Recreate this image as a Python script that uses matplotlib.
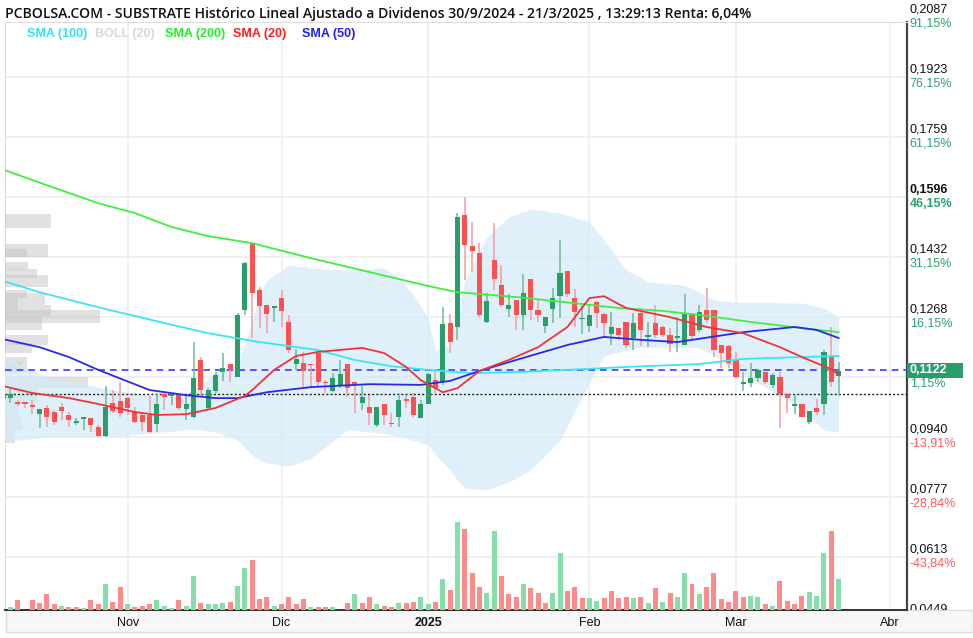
import numpy as np
import pandas as pd
import matplotlib
matplotlib.use("Agg")
import matplotlib.pyplot as plt
import matplotlib.transforms as mtransforms
from matplotlib.patches import Rectangle

# ---------------- datos ----------------
# sesiones BME desde el 9/10/2024 (el eje llega hasta el 1/4/2025)
holidays = pd.to_datetime(["2024-12-25", "2024-12-26", "2025-01-01"])
sessions = pd.bdate_range("2024-10-09", "2025-04-01")
sessions = sessions[~sessions.isin(holidays)]

opens = [0.1057, 0.1047, 0.1034, 0.1035, 0.1027, 0.1002, 0.1020, 0.1009, 0.1022, 0.1000,
         0.0979, 0.0990, 0.0992, 0.0968, 0.0942, 0.1033, 0.1039, 0.1047, 0.1009, 0.0999,
         0.1001, 0.0974, 0.1057, 0.1052, 0.1055, 0.1016, 0.0995, 0.1150, 0.1018, 0.1065,
         0.1117, 0.1139, 0.1104, 0.1286, 0.1468, 0.1341, 0.1299, 0.1292, 0.1320, 0.1254,
         0.1140, 0.1141, 0.1139, 0.1168, 0.1090, 0.1066, 0.1082, 0.1139, 0.1090, 0.1033,
         0.1022, 0.0973, 0.1030, 0.0978, 0.0995, 0.1043, 0.1050, 0.0993, 0.1030, 0.1095,
         0.1090, 0.1251, 0.1241, 0.1546, 0.1460, 0.1443, 0.1254, 0.1423, 0.1355, 0.1288,
         0.1314, 0.1274, 0.1370, 0.1286, 0.1242, 0.1290, 0.1325, 0.1392, 0.1318, 0.1263,
         0.1242, 0.1309, 0.1276, 0.1221, 0.1237, 0.1254, 0.1209, 0.1279, 0.1213, 0.1252,
         0.1241, 0.1218, 0.1209, 0.1191, 0.1273, 0.1232, 0.1286, 0.1286, 0.1191, 0.1189,
         0.1151, 0.1084, 0.1087, 0.1101, 0.1117, 0.1082, 0.1103, 0.1058, 0.1024, 0.1030,
         0.0980, 0.1020, 0.1031, 0.1158, 0.1106]
highs = [0.1060, 0.1071, 0.1041, 0.1035, 0.1041, 0.1016, 0.1027, 0.1014, 0.1032, 0.1008,
         0.0992, 0.0995, 0.0993, 0.0973, 0.1079, 0.1068, 0.1090, 0.1048, 0.1022, 0.1009,
         0.1053, 0.1060, 0.1060, 0.1060, 0.1055, 0.1052, 0.1200, 0.1159, 0.1073, 0.1117,
         0.1168, 0.1140, 0.1277, 0.1418, 0.1473, 0.1350, 0.1300, 0.1297, 0.1341, 0.1273,
         0.1179, 0.1172, 0.1140, 0.1170, 0.1095, 0.1114, 0.1150, 0.1140, 0.1091, 0.1079,
         0.1055, 0.1022, 0.1031, 0.1005, 0.1059, 0.1055, 0.1059, 0.1041, 0.1114, 0.1125,
         0.1295, 0.1275, 0.1550, 0.1596, 0.1527, 0.1469, 0.1334, 0.1523, 0.1409, 0.1330,
         0.1314, 0.1386, 0.1371, 0.1314, 0.1268, 0.1346, 0.1478, 0.1393, 0.1344, 0.1297,
         0.1300, 0.1310, 0.1277, 0.1281, 0.1238, 0.1255, 0.1277, 0.1286, 0.1254, 0.1300,
         0.1242, 0.1236, 0.1268, 0.1330, 0.1278, 0.1300, 0.1346, 0.1287, 0.1192, 0.1190,
         0.1172, 0.1118, 0.1143, 0.1125, 0.1118, 0.1114, 0.1117, 0.1059, 0.1057, 0.1031,
         0.1011, 0.1043, 0.1177, 0.1241, 0.1145]
lows = [0.1022, 0.1032, 0.1024, 0.1019, 0.1002, 0.0964, 0.0967, 0.0973, 0.0986, 0.0967,
        0.0973, 0.0959, 0.0954, 0.0940, 0.0940, 0.1005, 0.0995, 0.1000, 0.0979, 0.0956,
        0.0950, 0.0954, 0.1014, 0.1027, 0.1014, 0.0986, 0.0991, 0.1050, 0.1014, 0.1060,
        0.1092, 0.1090, 0.1103, 0.1273, 0.1210, 0.1237, 0.1224, 0.1254, 0.1241, 0.1168,
        0.1123, 0.1077, 0.1077, 0.1077, 0.1059, 0.1063, 0.1073, 0.1050, 0.1005, 0.1014,
        0.0973, 0.0968, 0.0973, 0.0968, 0.0968, 0.1018, 0.0995, 0.0991, 0.1029, 0.1060,
        0.1082, 0.1168, 0.1204, 0.1368, 0.1390, 0.1268, 0.1250, 0.1341, 0.1295, 0.1268,
        0.1232, 0.1232, 0.1259, 0.1254, 0.1223, 0.1250, 0.1264, 0.1322, 0.1241, 0.1221,
        0.1226, 0.1237, 0.1213, 0.1191, 0.1205, 0.1182, 0.1177, 0.1188, 0.1186, 0.1209,
        0.1213, 0.1172, 0.1172, 0.1190, 0.1205, 0.1227, 0.1251, 0.1158, 0.1128, 0.1127,
        0.1101, 0.1065, 0.1077, 0.1090, 0.1085, 0.1073, 0.0964, 0.1005, 0.1002, 0.0995,
        0.0975, 0.0999, 0.1000, 0.1076, 0.1053]
closes = [0.1043, 0.1057, 0.1030, 0.1031, 0.1022, 0.1016, 0.0995, 0.0981, 0.1010, 0.0986,
          0.0983, 0.0995, 0.0973, 0.0942, 0.1022, 0.1010, 0.1005, 0.1018, 0.0981, 0.0981,
          0.0954, 0.1029, 0.1049, 0.1057, 0.1018, 0.1029, 0.1102, 0.1068, 0.1068, 0.1108,
          0.1129, 0.1123, 0.1273, 0.1415, 0.1334, 0.1297, 0.1276, 0.1297, 0.1284, 0.1177,
          0.1152, 0.1121, 0.1137, 0.1090, 0.1087, 0.1101, 0.1113, 0.1073, 0.1082, 0.1050,
          0.1005, 0.1022, 0.1000, 0.0974, 0.1041, 0.1039, 0.1000, 0.1030, 0.1113, 0.1073,
          0.1249, 0.1200, 0.1539, 0.1464, 0.1447, 0.1273, 0.1310, 0.1372, 0.1300, 0.1300,
          0.1273, 0.1334, 0.1287, 0.1273, 0.1267, 0.1320, 0.1388, 0.1330, 0.1280, 0.1266,
          0.1273, 0.1277, 0.1250, 0.1241, 0.1218, 0.1191, 0.1252, 0.1232, 0.1218, 0.1218,
          0.1218, 0.1195, 0.1216, 0.1275, 0.1216, 0.1282, 0.1259, 0.1177, 0.1168, 0.1141,
          0.1103, 0.1090, 0.1101, 0.1123, 0.1090, 0.1108, 0.1057, 0.1045, 0.1030, 0.0995,
          0.1010, 0.1009, 0.1171, 0.1090, 0.1121]
# volumen (miles de acciones) y si la sesion cerro por encima de la anterior
volume = [0, 33, 100, 0, 100, 73, 157, 60, 43, 33,
          33, 23, 100, 60, 257, 83, 233, 57, 33, 43,
          57, 100, 43, 23, 100, 43, 343, 73, 57, 57,
          67, 83, 243, 417, 497, 110, 133, 43, 57, 133,
          57, 110, 33, 33, 33, 33, 0, 67, 157, 67,
          133, 57, 43, 33, 67, 67, 83, 133, 57, 83,
          307, 197, 883, 807, 373, 233, 167, 793, 343, 157,
          133, 257, 217, 167, 67, 167, 567, 193, 233, 117,
          117, 93, 117, 193, 117, 133, 117, 133, 67, 217,
          77, 167, 133, 367, 257, 157, 233, 367, 107, 83,
          193, 133, 143, 133, 57, 43, 293, 93, 57, 143,
          183, 143, 567, 793, 307]
vol_up = [0, 1, 0, 0, 0, 0, 0, 0, 1, 0,
          0, 1, 0, 0, 1, 0, 0, 1, 0, 0,
          0, 1, 1, 1, 0, 1, 1, 0, 1, 1,
          1, 0, 1, 1, 0, 0, 0, 1, 0, 0,
          0, 0, 1, 0, 0, 1, 0, 0, 1, 0,
          0, 1, 0, 0, 1, 0, 0, 1, 1, 0,
          1, 0, 1, 0, 0, 0, 1, 1, 0, 0,
          0, 1, 0, 0, 0, 1, 1, 0, 0, 0,
          1, 1, 0, 0, 0, 0, 1, 0, 1, 0,
          1, 0, 1, 1, 0, 1, 0, 0, 0, 0,
          0, 0, 1, 1, 0, 1, 0, 0, 0, 0,
          1, 1, 1, 0, 1]

# medias moviles (indice de sesion, valor)
sma200_day = [0, 6, 13, 18, 23, 28, 34, 42, 50, 54, 58, 62, 70, 78, 84, 90, 95, 102, 109, 114]
sma200 = [0.1670, 0.1627, 0.1578, 0.1551, 0.1513, 0.1488, 0.1469, 0.1428, 0.1390, 0.1371,
          0.1352, 0.1335, 0.1322, 0.1305, 0.1292, 0.1284, 0.1273, 0.1254, 0.1237, 0.1226]
sma100_day = [0, 5, 13, 22, 28, 35, 43, 48, 53, 58, 64, 70, 77, 85, 95, 101, 109, 114]
sma100 = [0.1366, 0.1335, 0.1294, 0.1251, 0.1223, 0.1199, 0.1177, 0.1150, 0.1133, 0.1123,
          0.1114, 0.1117, 0.1123, 0.1131, 0.1139, 0.1153, 0.1158, 0.1161]
sma50_day = [0, 5, 9, 13, 20, 25, 29, 32, 36, 42, 50, 57, 61, 65, 70, 77, 82, 87, 92, 101,
             108, 111, 114]
sma50 = [0.1207, 0.1185, 0.1158, 0.1123, 0.1068, 0.1054, 0.1046, 0.1046, 0.1062, 0.1076,
         0.1084, 0.1082, 0.1093, 0.1120, 0.1150, 0.1191, 0.1213, 0.1205, 0.1199, 0.1226,
         0.1240, 0.1232, 0.1210]
sma20_day = [0, 4, 9, 13, 18, 21, 25, 29, 33, 34, 37, 40, 43, 49, 52, 55, 57, 60, 62, 65,
             69, 73, 77, 80, 82, 85, 91, 96, 101, 106, 109, 113, 114]
sma20 = [0.1079, 0.1060, 0.1046, 0.1030, 0.1008, 0.1000, 0.1002, 0.1019, 0.1052, 0.1068,
         0.1123, 0.1161, 0.1172, 0.1183, 0.1169, 0.1131, 0.1095, 0.1062, 0.1073, 0.1120,
         0.1150, 0.1185, 0.1240, 0.1319, 0.1324, 0.1292, 0.1267, 0.1240, 0.1223, 0.1185,
         0.1158, 0.1125, 0.1109]
band_day = [0, 2, 6, 11, 15, 20, 25, 27, 29, 32, 33, 34, 35, 36, 39, 42, 47, 52, 54, 56,
            58, 59, 61, 62, 63, 66, 69, 72, 76, 80, 82, 85, 87, 88, 93, 95, 97, 100, 104, 109,
            112, 114]
band_up = [0.1163, 0.1142, 0.1103, 0.1084, 0.1068, 0.1054, 0.1060, 0.1082, 0.1117, 0.1144,
           0.1191, 0.1259, 0.1327, 0.1368, 0.1409, 0.1401, 0.1395, 0.1401, 0.1376, 0.1327,
           0.1264, 0.1177, 0.1191, 0.1259, 0.1368, 0.1486, 0.1540, 0.1562, 0.1551, 0.1527,
           0.1477, 0.1395, 0.1376, 0.1363, 0.1354, 0.1335, 0.1314, 0.1308, 0.1308, 0.1305,
           0.1292, 0.1267]
band_lo = [0.0931, 0.0931, 0.0940, 0.0940, 0.0940, 0.0950, 0.0959, 0.0959, 0.0953, 0.0931,
           0.0910, 0.0890, 0.0877, 0.0869, 0.0860, 0.0882, 0.0959, 0.0950, 0.0942, 0.0931,
           0.0918, 0.0890, 0.0850, 0.0822, 0.0800, 0.0795, 0.0817, 0.0850, 0.0931, 0.1087,
           0.1161, 0.1177, 0.1185, 0.1185, 0.1185, 0.1183, 0.1163, 0.1123, 0.1076, 0.1013,
           0.0959, 0.0953]

# perfil de volumen por precio (tramo bajo, tramo alto, volumen)
prof_lo = [0.1510, 0.1431, 0.1431, 0.1395, 0.1374, 0.1349, 0.1319, 0.1300, 0.1286, 0.1267,
           0.1251, 0.1232, 0.1191, 0.1169, 0.1117, 0.1114, 0.1073, 0.1035, 0.0994, 0.0959,
           0.0923]
prof_hi = [0.1548, 0.1466, 0.1453, 0.1417, 0.1398, 0.1382, 0.1341, 0.1333, 0.1319, 0.1300,
           0.1286, 0.1267, 0.1218, 0.1196, 0.1158, 0.1144, 0.1103, 0.1073, 0.1035, 0.0994,
           0.0959]
prof_vol = [46, 43, 22, 23, 32, 43, 22, 40, 13, 46, 95, 37, 43, 27, 22, 17, 83, 33, 13, 17, 10]

grid_prices = [0.2087, 0.1923, 0.1759, 0.1596, 0.1432, 0.1268, 0.1104, 0.0940, 0.0777,
               0.0613, 0.0449]
grid_pct = ["91,15%", "76,15%", "61,15%", "46,15%", "31,15%", "16,15%", "1,15%",
            "-13,91%", "-28,84%", "-43,84%", ""]
last_price = 0.1122
ref_price = 0.1056
month_names = ["Nov", "Dic", "2025", "Feb", "Mar", "Abr"]

title = ("PCBOLSA.COM - SUBSTRATE Histórico Lineal Ajustado a Dividenos "
         "30/9/2024 - 21/3/2025 , 13:29:13 Renta: 6,04%")

# ---------------- figura ----------------
plt.rcParams['font.family'] = ['Liberation Sans', 'DejaVu Sans']

W, H = 973, 638
fig = plt.figure(figsize=(W / 100, H / 100), dpi=100)
rect = [5 / W, 28 / H, 902 / W, 588 / H]
XL = (0.28, 123.33)
YL = (0.04676, 0.20726)

ax_bg = fig.add_axes(rect)
ax_prof = fig.add_axes(rect)
ax_vol = fig.add_axes(rect)
ax = fig.add_axes(rect)
for a in (ax_prof, ax_vol, ax):
    a.patch.set_visible(False)
    a.axis('off')

ax_bg.set_xlim(XL)
ax_bg.set_ylim(YL)
ax.set_xlim(XL)
ax.set_ylim(YL)
ax_vol.set_xlim(XL)
ax_vol.set_ylim(0, 5880)
ax_prof.set_xlim(0, 902)
ax_prof.set_ylim(YL)

# rejilla
s = pd.Series(np.arange(len(sessions)), index=sessions)
firsts = s.groupby([sessions.year, sessions.month]).first().values[1:]
for p in grid_prices:
    ax_bg.axhline(p, color='#ececec', lw=1.1, zorder=0)
for m in firsts:
    ax_bg.axvline(m, color='#ececec', lw=1.1, zorder=0)

ax_bg.set_xticks(firsts)
ax_bg.set_xticklabels(month_names)
ax_bg.set_yticks([])
ax_bg.tick_params(axis='x', length=0, pad=5, labelsize=9, labelcolor='#111111')
ax_bg.get_xticklabels()[2].set_fontweight('bold')
ax_bg.spines['right'].set_color('#444444')
ax_bg.spines['right'].set_linewidth(1.6)
ax_bg.spines['bottom'].set_color('#333333')
ax_bg.spines['bottom'].set_linewidth(1.4)
ax_bg.spines['left'].set_color('#dddddd')
ax_bg.spines['top'].set_color('#dddddd')

# perfil de volumen
prof_lo = np.array(prof_lo)
prof_hi = np.array(prof_hi)
ax_prof.barh((prof_lo + prof_hi) / 2, prof_vol, height=prof_hi - prof_lo, left=0,
             color='#c4c4c4', alpha=0.5, lw=0)

# volumen
x = np.arange(len(closes))
vcol = np.where(np.array(vol_up) == 1, '#86dfa9', '#ff8a8a')
ax_vol.bar(x, volume, width=0.68, color=vcol, lw=0)

# bandas de bollinger
ax.fill_between(band_day, band_lo, band_up, color='#d6ebfa', alpha=0.75, lw=0, zorder=1)

# lineas de referencia
ax.axhline(last_price, color='#3b3bff', lw=1.2, ls=(0, (4, 3)), zorder=2)
ax.axhline(ref_price, color='#222222', lw=1.0, ls=(0, (1.5, 1.5)), zorder=2)

# velas
o = np.array(opens)
h = np.array(highs)
l = np.array(lows)
c = np.array(closes)
up = c >= o
ax.vlines(x, l, h, colors=np.where(up, '#6cbd96', '#f59c9c'), lw=1.1, zorder=3)
ax.bar(x, np.maximum(np.abs(c - o), 0.0003), bottom=np.minimum(o, c), width=0.7,
       color=np.where(up, '#2a9d6b', '#ff5050'), lw=0, zorder=4)

# medias
ax.plot(sma200_day, sma200, color='#40ee40', lw=1.3, zorder=5)
ax.plot(sma100_day, sma100, color='#3be4f4', lw=1.3, zorder=5)
ax.plot(sma50_day, sma50, color='#2a2ae6', lw=1.3, zorder=5)
ax.plot(sma20_day, sma20, color='#ee3535', lw=1.3, zorder=5)

# escala de precios a la derecha
clip = mtransforms.TransformedBbox(mtransforms.Bbox.from_extents(0, 28 / H, 1, 1),
                                   fig.transFigure)
for p, pct in zip(grid_prices, grid_pct):
    bold = 'bold' if p == 0.1596 else 'normal'
    if p != 0.1104:
        t = ax.annotate(f"{p:.4f}".replace('.', ','), xy=(1, p),
                        xycoords=('axes fraction', 'data'), xytext=(2, 5),
                        textcoords='offset points', va='center', ha='left', fontsize=9,
                        color='#111111', fontweight=bold, annotation_clip=False)
        t.set_clip_box(clip)
        t.set_clip_on(True)
    if pct:
        pc = '#ff5a5a' if pct.startswith('-') else '#2ba36f'
        ax.annotate(pct, xy=(1, p), xycoords=('axes fraction', 'data'), xytext=(2, -5),
                    textcoords='offset points', va='center', ha='left', fontsize=9,
                    color=pc, fontweight=bold, annotation_clip=False)

blend = mtransforms.blended_transform_factory(ax.transAxes, ax.transData)
ax.add_patch(Rectangle((1.0, last_price - 0.0021), 0.062, 0.0042, transform=blend,
                       facecolor='#2a9d6b', edgecolor='none', clip_on=False, zorder=6))
ax.annotate(f"{last_price:.4f}".replace('.', ','), xy=(1, last_price),
            xycoords=('axes fraction', 'data'), xytext=(2, 0), textcoords='offset points',
            va='center', ha='left', fontsize=9, color='white', fontweight='bold',
            annotation_clip=False, zorder=7)

# franja inferior del eje de fechas
fig.add_artist(Rectangle((6 / W, 6 / H), 967 / W, 22 / H, transform=fig.transFigure,
                         facecolor='#f7f7f7', edgecolor='#dddddd', lw=1, zorder=-1))

# titulo y leyenda
fig.text(5 / W, 1 - 14 / H, title, family=['Open Sans', 'DejaVu Sans'], fontweight='semibold',
         fontsize=10.1, va='center', ha='left', color='#111111')
legend = [("SMA (100)", '#2fe3f5', 27), ("BOLL (20)", '#d8d8d8', 95),
          ("SMA (200)", '#22ee22', 165), ("SMA (20)", '#ff2020', 233),
          ("SMA (50)", '#2020ee', 302)]
for txt, col, xp in legend:
    fig.text(xp / W, 1 - 34 / H, txt, color=col, fontsize=9, fontweight='bold',
             va='center', ha='left')

fig.savefig("out.png", dpi=100)
